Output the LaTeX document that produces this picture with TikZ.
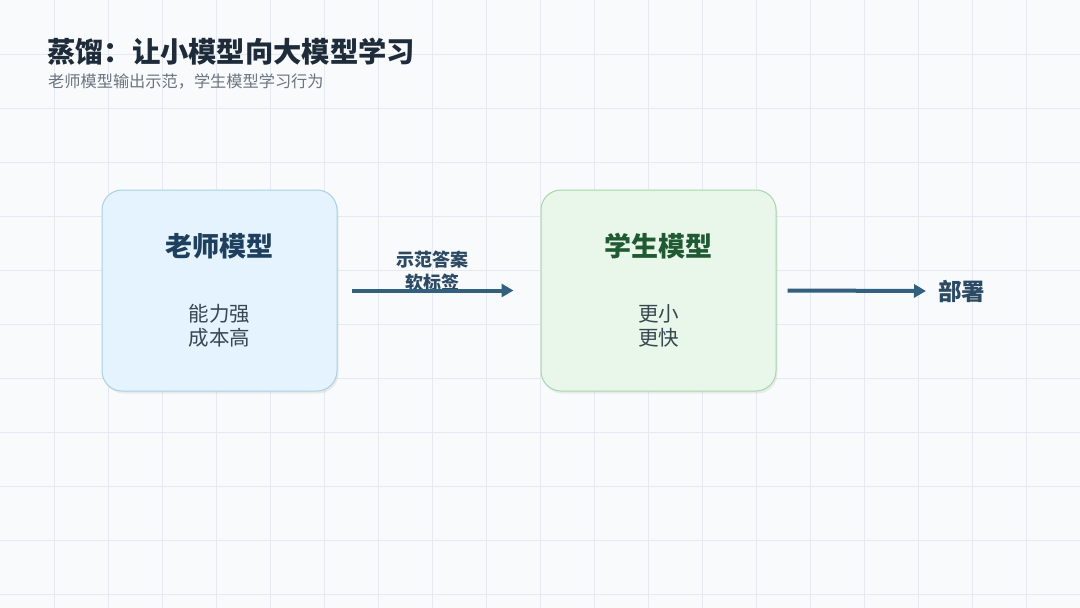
\documentclass[tikz,border=0pt]{standalone}
\usepackage{fontspec}
\setmainfont{Noto Sans CJK SC}
\usetikzlibrary{shadows,arrows.meta}
\definecolor{bgc}{HTML}{F8FAFC}
\definecolor{gridc}{HTML}{E4EAF0}
\definecolor{titlec}{HTML}{1E2B3A}
\definecolor{subc}{HTML}{6B7480}
\definecolor{tfill}{HTML}{E4F3FD}
\definecolor{tdraw}{HTML}{A9D0E3}
\definecolor{sfill}{HTML}{E9F6EA}
\definecolor{sdraw}{HTML}{A8D6AA}
\definecolor{thead}{HTML}{1E3F5E}
\definecolor{shead}{HTML}{1F5A33}
\definecolor{bodyc}{HTML}{37474F}
\definecolor{arrc}{HTML}{33607F}
\definecolor{labc}{HTML}{2C4A63}
\tikzset{
  gridline/.style={draw=gridc, line width=0.8pt},
  card/.style={rounded corners=20pt, line width=1pt, minimum width=235pt, minimum height=201pt,
    drop shadow={shadow xshift=1.5pt, shadow yshift=-2.5pt, opacity=0.10, fill=black!60}},
  cardtitle/.style={font=\bfseries\fontsize{27}{32}\selectfont},
  cardbody/.style={font=\fontsize{20.5}{24}\selectfont, text=bodyc, align=center},
  flow/.style={draw=arrc, line width=4pt, -{Triangle[length=12pt,width=13pt]}},
  flowlabel/.style={font=\bfseries\fontsize{18}{23}\selectfont, text=labc, align=center}
}
\begin{document}
\begin{tikzpicture}[x=1pt,y=-1pt]
\fill[bgc] (0,0) rectangle (1080,608);
\useasboundingbox (0,0) rectangle (1080,608);
\foreach \i in {1,...,19} \draw[gridline] (\i*54,0) -- (\i*54,608);
\foreach \j in {1,...,11} \draw[gridline] (0,\j*54) -- (1080,\j*54);

\node[anchor=west, inner sep=0, text=titlec, font=\bfseries\fontsize{28.3}{32}\selectfont] (title) at (47,52) {蒸馏：让小模型向大模型学习};
\node[anchor=west, inner sep=0, text=subc, font=\fontsize{16.2}{18}\selectfont] (subtitle) at (48,81) {老师模型输出示范，学生模型学习行为};

\node[card, fill=tfill, draw=tdraw] (teacher) at (219.5,290.5) {};
\node[card, fill=sfill, draw=sdraw] (student) at (658.5,290.5) {};

\node[cardtitle, text=thead] (tname) at (219.5,246) {老师模型};
\node[cardbody] (tbody) at (219.5,326) {能力强\\成本高};
\node[cardtitle, text=shead] (sname) at (658.5,246) {学生模型};
\node[cardbody] (sbody) at (658.5,326) {更小\\更快};

\node[flowlabel] (lab) at (432,271.5) {示范答案\\软标签};
\node[anchor=west, inner sep=0, font=\bfseries\fontsize{23.5}{26}\selectfont, text=labc] (deploy) at (938,291) {部署};

\draw[flow] ([xshift=14pt]teacher.east) -- ([xshift=-27pt]student.west);
\draw[flow] ([xshift=11pt]student.east) -- ([xshift=-12pt]deploy.west);
\end{tikzpicture}
\end{document}
